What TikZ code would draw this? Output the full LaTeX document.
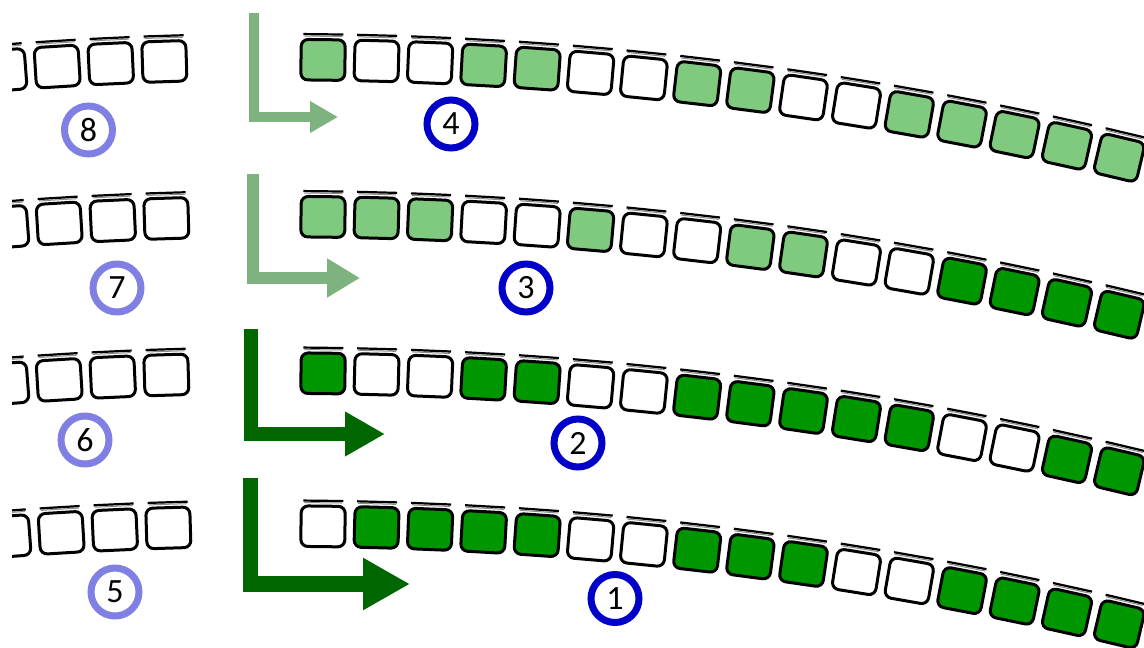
\documentclass[tikz,border=0pt]{standalone}
\usepackage{fontspec}
\setmainfont{Carlito}
\usetikzlibrary{arrows.meta}
\definecolor{lgreen}{RGB}{127,202,127}
\definecolor{dgreen}{RGB}{0,150,0}
\definecolor{larrow}{RGB}{126,178,126}
\definecolor{darrow}{RGB}{0,102,0}
\definecolor{lring}{RGB}{128,128,228}
\definecolor{dring}{RGB}{0,0,200}
\begin{document}
\begin{tikzpicture}[x=1pt,y=-1pt,
  cell/.style={draw=black, line width=3pt, rounded corners=7pt, minimum width=44pt, minimum height=40.5pt, inner sep=0pt, outer sep=0pt},
  W/.style={cell, fill=white}, L/.style={cell, fill=lgreen}, D/.style={cell, fill=dgreen},
  barK/.style={line width=2.2pt, black},
  barG/.style={line width=1pt, black!45},
  ring/.style={circle, line width=7pt, minimum size=48pt, inner sep=0pt, font=\fontsize{34}{34}\selectfont},
  lab/.style={ring, draw=lring}, num/.style={ring, draw=dring},
  flow/.style={line join=miter},
]
\useasboundingbox (0,0) rectangle (1144,648);
\begin{scope}
\clip (12,0) rectangle (1144,648);
\foreach \row/\yz/\pattern/\lsh in {
  4/59.5/{L,W,W,L,L,W,W,L,L,W,W,L,L,L,L,L}/2,
  3/216.5/{L,L,L,W,W,L,W,W,L,L,W,W,D,D,D,D}/4,
  2/373/{D,W,W,D,D,W,W,D,D,D,D,D,W,W,D,D}/4,
  1/526/{W,D,D,D,D,W,W,D,D,D,W,W,D,D,D,D}/6}{
  \foreach \st [count=\i from 0] in \pattern {
    \pgfmathsetmacro\s{43+53.6*\i}
    \pgfmathsetmacro\th{deg(\s/3640)}
    \pgfmathsetmacro\rt{-\th}
    \pgfmathsetmacro\cx{280+3640*sin(\th)}
    \pgfmathsetmacro\cy{\yz+3640*(1-cos(\th))}
    \begin{scope}[shift={(\cx,\cy)}, rotate=\rt, transform shape]
      \node[\st] (s\row-\i) at (0,0) {};
      \draw[barG] (-19,-23.6) -- (19,-23.6);
      \draw[barK] (-20,-25.6) -- (20,-25.6);
    \end{scope}
  }
  \foreach \j in {3,4,5,6} {
    \pgfmathsetmacro\s{43-53.6*\j+\lsh}
    \pgfmathsetmacro\th{deg(\s/3640)}
    \pgfmathsetmacro\rt{-\th}
    \pgfmathsetmacro\cx{280+3640*sin(\th)}
    \pgfmathsetmacro\cy{\yz+3640*(1-cos(\th))}
    \begin{scope}[shift={(\cx,\cy)}, rotate=\rt, transform shape]
      \node[W] (t\row-\j) at (0,0) {};
      \draw[barG] (-19,-23.6) -- (19,-23.6);
      \draw[barK] (-20,-25.6) -- (20,-25.6);
    \end{scope}
  }
}
\end{scope}
% arrows
\coordinate (a4s) at (254,13);    \coordinate (a4e) at (338,117);
\coordinate (a3s) at (253,174);   \coordinate (a3e) at (360,278);
\coordinate (a2s) at (251,329);   \coordinate (a2e) at (385,434);
\coordinate (a1s) at (250.5,478); \coordinate (a1e) at (410,584);
\draw[flow, larrow, line width=10pt, -{Triangle[length=28pt,width=30pt]}] (a4s) |- (a4e);
\draw[flow, larrow, line width=12.5pt, -{Triangle[length=33pt,width=37pt]}] (a3s) |- (a3e);
\draw[flow, darrow, line width=14.5pt, -{Triangle[length=40pt,width=42pt]}] (a2s) |- (a2e);
\draw[flow, darrow, line width=15.6pt, -{Triangle[length=47pt,width=49pt]}] (a1s) |- (a1e);
% circled numbers
\node[lab] (c8) at (88.5,130) {8};
\node[lab] (c7) at (117,288) {7};
\node[lab] (c6) at (85,440) {6};
\node[lab] (c5) at (115,592) {5};
\node[num] (c4) at (451,124) {4};
\node[num] (c3) at (526,288) {3};
\node[num] (c2) at (578,443) {2};
\node[num] (c1) at (615,598.5) {1};
\end{tikzpicture}
\end{document}
